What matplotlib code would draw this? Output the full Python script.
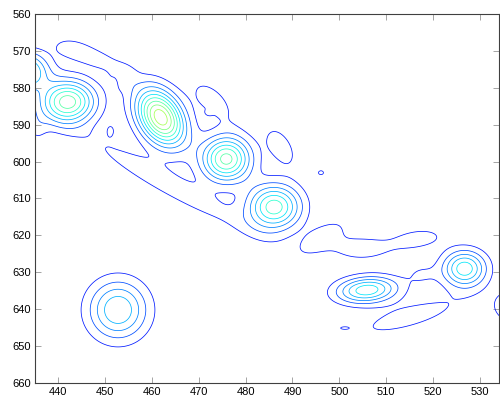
import numpy as np
import matplotlib
matplotlib.use("Agg")
import matplotlib.pyplot as plt

# blob parameters (centre, height, spread, tilt)
# main peaks
blob_x = [433.0, 442.1, 461.9, 475.9, 486.1, 505.9, 526.7, 452.8, 537.5]
blob_y = [575.5, 583.8, 588.0, 599.3, 612.3, 634.8, 629.0, 640.2, 639.3]
blob_amp = [6.0, 7.6, 9.7, 7.4, 6.6, 5.7, 5.7, 4.95, 4.0]
blob_sx = [3.3, 4.0, 3.6, 3.6, 3.9, 4.5, 3.2, 4.4, 2.5]
blob_sy = [3.5, 4.0, 5.4, 4.2, 4.2, 2.5, 3.4, 5.6, 2.5]
blob_rho = [0.0, 0.0, 0.35, 0.0, 0.0, -0.15, 0.0, 0.0, 0.0]

# low ridges, small bumps and dips
low_x = [443.0, 449.0, 453.8, 463.5, 473.0, 472.2, 487.5, 496.1,
         496.5, 504.5, 516.5, 517.5, 515.0, 501.1, 435.5, 452.2, 451.3]
low_y = [569.5, 572.5, 577.0, 606.0, 583.5, 586.7, 596.0, 603.0,
         620.5, 623.5, 621.0, 630.5, 642.0, 645.1, 591.0, 578.3, 591.5]
low_amp = [1.4, 1.4, 1.4, 1.5, 1.45, 1.0, 1.55, 1.15,
           1.6, 1.7, 1.5, 1.0, 1.35, 1.05, 1.0, -0.5, 0.85]
low_sx = [3.2, 3.5, 2.0, 14.6, 3.6, 0.5, 2.6, 0.9,
          3.8, 4.5, 4.5, 2.5, 10.0, 0.8, 1.6, 0.6, 1.0]
low_sy = [2.3, 2.4, 2.5, 10.6, 4.5, 0.5, 4.3, 0.9,
          3.5, 2.3, 2.3, 2.2, 4.6, 0.3, 3.0, 1.3, 1.8]
low_rho = [0.3, 0.55, 0.0, 0.953, 0.6, 0.0, 0.5, 0.0,
           -0.6, 0.0, -0.3, 0.0, -0.74, 0.0, 0.0, 0.0, 0.0]

levels = [1, 2, 3, 4, 5, 6, 7, 8, 9]
x_ticks = [440, 450, 460, 470, 480, 490, 500, 510, 520, 530]
y_ticks = [560, 570, 580, 590, 600, 610, 620, 630, 640, 650, 660]

xs = np.linspace(430, 540, 800)
ys = np.linspace(555, 665, 800)
X, Y = np.meshgrid(xs, ys)
Z = np.zeros_like(X)
params = zip(blob_x + low_x, blob_y + low_y, blob_amp + low_amp,
             blob_sx + low_sx, blob_sy + low_sy, blob_rho + low_rho)
for x0, y0, a, sx, sy, r in params:
    dx = (X - x0) / sx
    dy = (Y - y0) / sy
    q = (dx**2 - 2 * r * dx * dy + dy**2) / (1 - r**2)
    Z += a * np.exp(-0.5 * q)

plt.rcParams['font.family'] = ['Liberation Sans', 'DejaVu Sans']
fig = plt.figure(figsize=(5.0, 4.03), dpi=100)
ax = fig.add_axes([0.07, 0.0496, 0.928, 0.9157])
ax.contour(X, Y, Z, levels=levels, cmap='jet', vmin=-2, vmax=18, linewidths=0.55)

ax.set_xlim(435.1, 534.05)
ax.set_ylim(660, 560)
ax.set_xticks(x_ticks)
ax.set_yticks(y_ticks)
ax.tick_params(direction='in', top=True, right=True, labelsize=8,
               length=4, width=0.5, color='#808080', pad=3)
for s in ax.spines.values():
    s.set_linewidth(0.8)
    s.set_color('#404040')

fig.savefig('out.png', dpi=100)
